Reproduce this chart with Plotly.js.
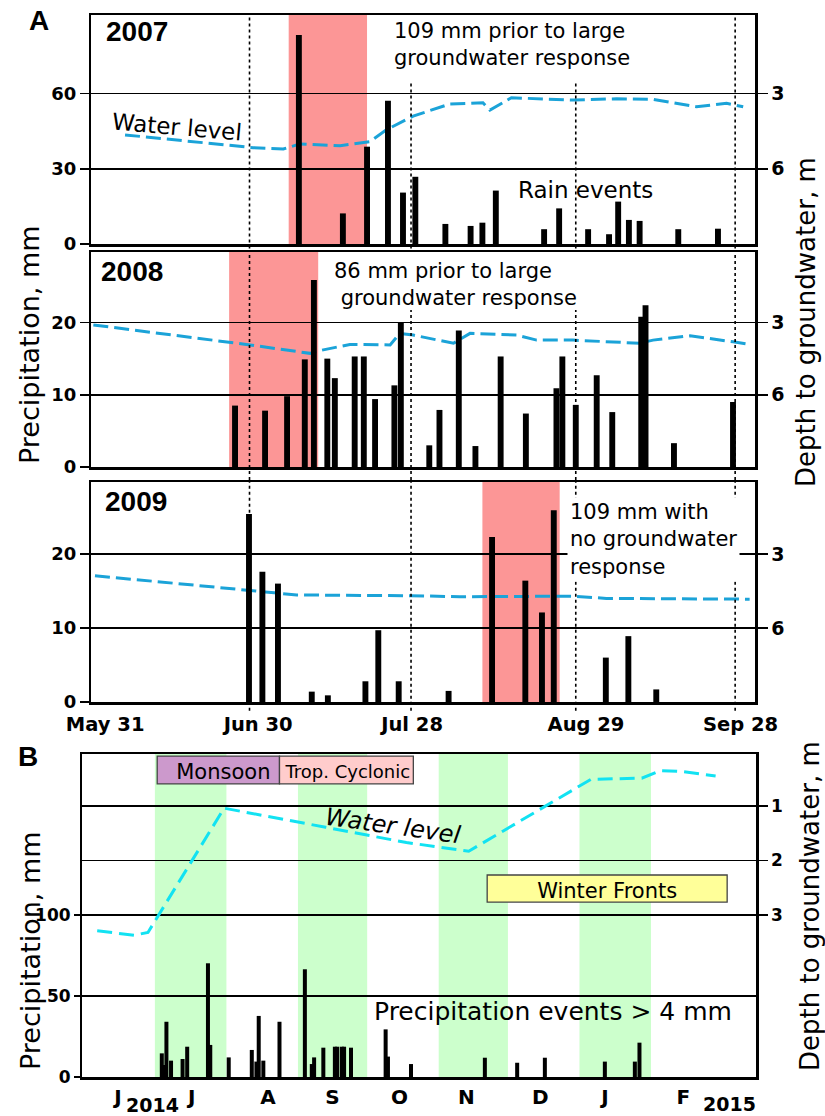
<!DOCTYPE html>
<html><head><meta charset="utf-8">
<script src="https://cdn.plot.ly/plotly-3.0.1.min.js"></script>
<style>html,body{margin:0;padding:0;background:#fff}#chart{width:825px;height:1116px}</style>
</head><body><div id="chart"></div>
<script>
// ---------- Panel A data (x = days after May 31) ----------
const tickDays = [2.3, 30.8, 59.5, 91.9, 120.7];
const tickText = ['May 31', 'Jun 30', 'Jul 28', 'Aug 29', 'Sep 28'];
const refDays = [29.2, 59.3, 90.0, 119.7];

// 2007
const days07 = [38.4, 46.6, 51.1, 55.0, 57.8, 60.1, 65.7, 70.4, 72.6, 75.1, 84.1, 86.9, 92.3, 96.2, 97.9, 99.9, 101.9, 109.1, 116.5];
const rain07 = [83.3, 12.2, 38.8, 57.1, 20.5, 26.8, 8.0, 7.2, 8.5, 21.3, 5.9, 14.2, 5.9, 3.9, 16.9, 9.6, 9.2, 5.9, 6.1];
const wlDays07 = [6.0, 29.9, 35.5, 38.6, 46.1, 51.6, 54.7, 59.7, 66.5, 72.7, 74.0, 78.0, 89.5, 97.6, 104.4, 112.5, 118.1, 121.2];
const depth07 = [4.65, 5.16, 5.21, 5.01, 5.08, 4.92, 4.45, 3.90, 3.42, 3.37, 3.66, 3.17, 3.26, 3.21, 3.23, 3.53, 3.39, 3.53];
const shade07 = [36.5, 51.1];

// 2008
const days08 = [26.5, 32.1, 36.2, 39.5, 41.2, 43.7, 45.1, 48.8, 50.5, 52.6, 56.2, 57.4, 62.7, 64.6, 68.2, 71.3, 76.0, 80.7, 86.4, 87.5, 90.0, 93.9, 96.8, 102.2, 103.0, 108.3, 119.3];
const rain08 = [8.5, 7.8, 9.8, 14.9, 25.9, 15.0, 12.3, 15.3, 15.3, 9.4, 11.3, 20.0, 3.0, 7.9, 18.9, 2.9, 15.3, 7.4, 10.9, 15.3, 8.6, 12.7, 7.6, 20.8, 22.4, 3.3, 9.0];
const wlDays08 = [0.1, 29.3, 40.5, 42.0, 47.9, 55.4, 57.2, 59.7, 67.2, 70.3, 79.0, 82.7, 89.5, 101.9, 104.4, 111.3, 119.3, 121.8];
const depth08 = [3.10, 3.93, 4.28, 4.18, 3.91, 3.93, 3.45, 3.52, 3.86, 3.45, 3.52, 3.73, 3.73, 3.86, 3.73, 3.55, 3.80, 3.89];
const shade08 = [25.4, 42.0];

// 2009
const days09 = [29.1, 31.6, 34.5, 40.8, 43.8, 50.8, 53.2, 57.0, 66.3, 74.4, 80.6, 83.7, 85.9, 95.6, 99.8, 105.0];
const rain09 = [25.4, 17.6, 16.0, 1.4, 0.9, 2.8, 9.7, 2.8, 1.5, 22.3, 16.4, 12.1, 25.9, 6.0, 8.9, 1.7];
const wlDays09 = [0.4, 28.7, 38.0, 59.1, 68.4, 89.5, 95.7, 122.4];
const depth09 = [3.88, 4.46, 4.66, 4.69, 4.73, 4.71, 4.80, 4.83];
const shade09 = [72.6, 87.0];

// ---------- Panel B data ----------
const datesB = ['2014-07-04','2014-07-05','2014-07-06','2014-07-08','2014-07-13','2014-07-15','2014-07-24','2014-07-25','2014-08-02','2014-08-12','2014-08-14','2014-08-15','2014-08-17','2014-08-24','2014-09-04','2014-09-07','2014-09-08','2014-09-12','2014-09-17','2014-09-18','2014-09-20','2014-09-21','2014-09-24','2014-10-09','2014-10-10','2014-10-20','2014-11-21','2014-12-05','2014-12-17','2015-01-12','2015-01-25','2015-01-27'];
const rainB = [14.6, 7.4, 34.1, 10.1, 11.1, 18.7, 70.2, 19.8, 12.1, 16.7, 9.5, 37.7, 10.1, 34.1, 66.5, 8.0, 12.1, 18.1, 18.7, 18.7, 18.7, 18.7, 18.1, 29.4, 12.6, 8.0, 11.9, 8.8, 11.9, 9.5, 9.5, 21.2];
const wlDatesB = ['2014-06-06','2014-06-22','2014-06-28','2014-07-31','2014-09-13','2014-10-18','2014-11-14','2015-01-06','2015-01-28','2015-02-05','2015-02-15','2015-03-01'];
const depthB = [3.29, 3.37, 3.32, 1.04, 1.39, 1.67, 1.83, 0.51, 0.49, 0.35, 0.37, 0.45];
const monthTickDates = ['2014-06-15','2014-07-17','2014-08-19','2014-09-16','2014-10-15','2014-11-13','2014-12-15','2015-01-12','2015-02-15'];
const monthTickText = ['J','J','A','S','O','N','D','J','F'];
const greenStart = ['2014-07-01','2014-09-01','2014-11-01','2015-01-01'];
const greenEnd = ['2014-08-01','2014-10-01','2014-12-01','2015-02-01'];
const seasonNames = ['Monsoon','Trop. Cyclonic','Winter Fronts'];
const seasonStart = ['2014-07-02','2014-08-24','2014-11-22'];
const seasonEnd = ['2014-08-24','2014-10-21','2015-03-06'];
const seasonLow = [180.9, 180.9, 108.0];
const seasonHigh = [198.1, 198.1, 124.7];
const seasonColors = ['rgb(204,153,204)','rgb(255,204,204)','rgb(255,255,153)'];

// ---------- geometry helpers ----------
const W = 825, H = 1116;
const px = v => v / W, py = v => 1 - v / H;
const DJ = 'DejaVu Sans, sans-serif';
const LIB = 'Liberation Sans, Arial, sans-serif';
const blueA = 'rgb(27,163,216)';
const blueB = 'rgb(18,226,242)';
const redShade = 'rgb(252,150,150)';

const xDomA = [px(91), px(755)];
const xDomB = [px(82), px(756)];
const panels = [
  {x:'x',  yd:'y',  yp:'y2', dom:[py(244), py(15)],  pr:[0,91.3],  dr:[9,-0.13], pt:[0,30,60], days:days07, rain:rain07, wd:wlDays07, dep:depth07, shade:shade07, tops:[1,0.703,0.703,1], y0:-0.02},
  {x:'x2', yd:'y3', yp:'y4', dom:[py(467), py(252)], pr:[0,29.76], dr:[9,0.07],  pt:[0,10,20], days:days08, rain:rain08, wd:wlDays08, dep:depth08, shade:shade08, tops:[1,0.73,0.73,1], y0:-0.06},
  {x:'x3', yd:'y5', yp:'y6', dom:[py(702), py(482)], pr:[0,29.73], dr:[9,0.08],  pt:[0,10,20], days:days09, rain:rain09, wd:wlDays09, dep:depth09, shade:shade09, tops:[1,1,1,1], y0:-0.04}
];

const traces = [];
const shapes = [];
const layout = {
  width: W, height: H, autosize: false,
  margin: {l:0, r:0, t:0, b:0, pad:0},
  paper_bgcolor: '#fff', plot_bgcolor: 'rgba(0,0,0,0)',
  showlegend: false, hovermode: false,
  font: {family: DJ, color: '#000'}
};

const axName = id => id === 'x' ? 'xaxis' : id === 'y' ? 'yaxis' : (id[0] + 'axis' + id.slice(1));

panels.forEach((p, i) => {
  layout[axName(p.x)] = {
    domain: xDomA, range: [-0.34, 123.4], anchor: p.yd,
    showline: true, mirror: true, linecolor: '#000', linewidth: 2.5,
    showgrid: false, zeroline: false, ticks: '',
    showticklabels: i === 2, tickvals: tickDays, ticktext: tickText,
    tickfont: {family: DJ, size: 19.5, weight: 'bold', color: '#000'},
    ticklabelstandoff: 3
  };
  layout[axName(p.yd)] = {
    domain: p.dom, range: p.dr, anchor: p.x, side: 'right',
    tickvals: [3, 6], ticks: 'outside', ticklen: 10, tickwidth: 1.5, tickcolor: '#000',
    tickfont: {family: DJ, size: 19, weight: 'bold', color: '#000'},
    showgrid: false, zeroline: false,
    showline: true, mirror: true, linecolor: '#000', linewidth: 2.5
  };
  layout[axName(p.yp)] = {
    overlaying: p.yd, anchor: p.x, side: 'left', range: p.pr,
    tickvals: p.pt, ticks: 'outside', ticklen: 10, tickwidth: 1.5, tickcolor: '#000',
    tickfont: {family: DJ, size: 18, weight: 'bold', color: '#000'},
    showgrid: true, gridcolor: '#000', gridwidth: 1.5, zeroline: false, showline: false
  };
  traces.push({
    type: 'scatter', mode: 'lines', x: p.wd, y: p.dep, xaxis: p.x, yaxis: p.yd,
    line: {color: blueA, width: 3, dash: '15px,6px'}
  });
  traces.push({
    type: 'bar', x: p.days, y: p.rain, xaxis: p.x, yaxis: p.yp,
    width: 1.1, marker: {color: '#000', line: {width: 0}}
  });
  shapes.push({
    type: 'rect', xref: p.x, yref: p.yd + ' domain', x0: p.shade[0], x1: p.shade[1], y0: 0, y1: 1,
    fillcolor: redShade, line: {width: 0}, layer: 'below'
  });
  refDays.forEach((d, k) => {
    shapes.push({
      type: 'line', xref: p.x, yref: p.yd + ' domain', x0: d, x1: d, y0: p.y0, y1: p.tops[k],
      line: {color: '#000', width: 1.6, dash: 'dot'}, layer: 'above'
    });
  });
});

// Panel B axes
layout.xaxis4 = {
  type: 'date', domain: xDomB, range: ['2014-05-30 10:00', '2015-03-18 12:00'], anchor: 'y7',
  showline: true, mirror: true, linecolor: '#000', linewidth: 2.5,
  showgrid: false, zeroline: false, ticks: '',
  tickvals: monthTickDates, ticktext: monthTickText,
  tickfont: {family: DJ, size: 20, weight: 'bold', color: '#000'},
  ticklabelstandoff: 0
};
layout.yaxis7 = {
  domain: [py(1077), py(754)], range: [5.972, 0.046], anchor: 'x4', side: 'right',
  tickvals: [1, 2, 3], ticks: 'outside', ticklen: 9, tickwidth: 1.3, tickcolor: '#000',
  tickfont: {family: DJ, size: 17, weight: 'bold', color: '#000'},
  showgrid: true, gridcolor: '#000', gridwidth: 1.3, zeroline: false,
  showline: true, mirror: true, linecolor: '#000', linewidth: 2.5
};
layout.yaxis8 = {
  overlaying: 'y7', anchor: 'x4', side: 'left', range: [0, 199.4],
  tickvals: [0, 50, 100], ticks: 'outside', ticklen: 7, tickwidth: 1.3, tickcolor: '#000',
  tickfont: {family: DJ, size: 17, weight: 'bold', color: '#000'},
  showgrid: true, gridcolor: '#000', gridwidth: 1.3, zeroline: false, showline: false
};
traces.push({
  type: 'scatter', mode: 'lines', x: wlDatesB, y: depthB, xaxis: 'x4', yaxis: 'y7',
  line: {color: blueB, width: 3, dash: '15px,7px'}
});
traces.push({
  type: 'bar', x: datesB, y: rainB, xaxis: 'x4', yaxis: 'y8',
  width: 1.5e8, marker: {color: '#000', line: {width: 0}}
});
greenStart.forEach((s, k) => {
  shapes.push({
    type: 'rect', xref: 'x4', yref: 'y7 domain', x0: s, x1: greenEnd[k], y0: 0, y1: 1,
    fillcolor: 'rgb(204,255,204)', line: {width: 0}, layer: 'below'
  });
});
const seasonPos = ['middle right', 'middle left', 'middle center'];
const seasonSize = [21, 18, 21];
seasonNames.forEach((n, k) => {
  shapes.push({
    type: 'rect', xref: 'x4', yref: 'y8', x0: seasonStart[k], x1: seasonEnd[k], y0: seasonLow[k], y1: seasonHigh[k],
    fillcolor: seasonColors[k], line: {color: '#444', width: 1.3}, layer: 'above',
    label: {text: n, textposition: seasonPos[k], padding: k === 0 ? 6 : 3,
            font: {family: DJ, size: seasonSize[k], color: '#000'}}
  });
});
layout.shapes = shapes;

const ann = (text, x, y, o) => Object.assign({
  text, x: px(x), y: py(y), xref: 'paper', yref: 'paper', showarrow: false,
  xanchor: 'center', yanchor: 'middle', font: {family: DJ, size: 21, color: '#000'}
}, o || {});
layout.annotations = [
  ann('A', 39, 21, {font: {family: LIB, size: 28, weight: 'bold', color: '#000'}}),
  ann('B', 28, 756, {font: {family: LIB, size: 28, weight: 'bold', color: '#000'}}),
  ann('2007', 104, 31, {xanchor: 'left', font: {family: LIB, size: 28, weight: 'bold', color: '#000'}}),
  ann('2008', 99, 272, {xanchor: 'left', font: {family: LIB, size: 28, weight: 'bold', color: '#000'}}),
  ann('2009', 103, 502, {xanchor: 'left', font: {family: LIB, size: 28, weight: 'bold', color: '#000'}}),
  ann('109 mm prior to large<br>groundwater response', 392, 44, {xanchor: 'left', align: 'left'}),
  ann('Water level', 177, 127, {textangle: 5, font: {family: DJ, size: 23, color: '#000'}}),
  ann('Rain events', 585, 190, {font: {family: DJ, size: 23, color: '#000'}}),
  ann('86 mm prior to large<br>\u00a0groundwater response', 332, 284, {xanchor: 'left', align: 'left'}),
  ann('109 mm with<br>no groundwater<br>response', 567, 539, {xanchor: 'left', align: 'left', bgcolor: '#fff', borderpad: 2}),
  ann('Precipitation, mm', 30, 345, {textangle: -90, font: {family: DJ, size: 27, color: '#000'}}),
  ann('Depth to groundwater, m', 806, 322, {textangle: -90, font: {family: DJ, size: 26, color: '#000'}}),
  ann('Water level', 393, 826, {textangle: 8, font: {family: DJ, size: 24, style: 'italic', color: '#000'}}),
  ann('Precipitation events > 4 mm', 553, 1011, {font: {family: DJ, size: 25, color: '#000'}}),
  ann('Precipitation, mm', 30, 951, {textangle: -90, font: {family: DJ, size: 27, color: '#000'}}),
  ann('Depth to groundwater, m', 810, 906, {textangle: -90, font: {family: DJ, size: 26, color: '#000'}}),
  ann('2014', 152, 1105, {font: {family: DJ, size: 19, weight: 'bold', color: '#000'}}),
  ann('2015', 729, 1104, {font: {family: DJ, size: 19, weight: 'bold', color: '#000'}})
];

Plotly.newPlot('chart', traces, layout, {staticPlot: true, displayModeBar: false});
</script></body></html>
